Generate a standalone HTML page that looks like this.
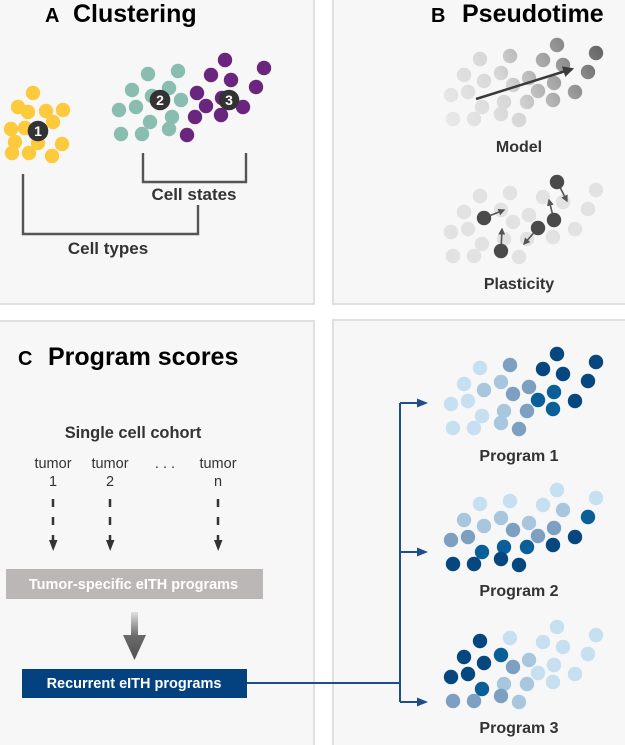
<!DOCTYPE html>
<html><head><meta charset="utf-8"><style>
html,body{margin:0;padding:0;background:#fff;}
svg{display:block;}
text{font-family:"Liberation Sans",Arial,sans-serif;}
</style></head><body>
<svg width="625" height="745" viewBox="0 0 625 745" xmlns="http://www.w3.org/2000/svg">
<defs>
<linearGradient id="gm" gradientUnits="userSpaceOnUse" x1="450" y1="125" x2="600" y2="45">
<stop offset="0" stop-color="#e8e8e8"/><stop offset="0.4" stop-color="#d6d6d6"/><stop offset="0.65" stop-color="#a8a8a8"/><stop offset="1" stop-color="#666"/>
</linearGradient>
<linearGradient id="ga" x1="0" y1="0" x2="0" y2="1">
<stop offset="0" stop-color="#e0e0e0"/><stop offset="0.5" stop-color="#6a6a6a"/><stop offset="1" stop-color="#505050"/>
</linearGradient>
<marker id="pa" viewBox="0 0 10 10" refX="8" refY="5" markerWidth="7" markerHeight="7" markerUnits="userSpaceOnUse" orient="auto"><path d="M0,0 L10,5 L0,10 z" fill="#555"/></marker>
<marker id="ma" viewBox="0 0 10 10" refX="8" refY="5" markerWidth="11" markerHeight="11" markerUnits="userSpaceOnUse" orient="auto"><path d="M0,0 L10,5 L0,10 z" fill="#3a3a3a"/></marker>
</defs>

<!-- panels -->
<rect x="-2" y="-2" width="316" height="306" fill="#f7f7f7" stroke="#e0e0e0" stroke-width="2"/>
<rect x="333" y="-2" width="294" height="306" fill="#f7f7f7" stroke="#e0e0e0" stroke-width="2"/>
<rect x="-2" y="321" width="316" height="426" fill="#f7f7f7" stroke="#e0e0e0" stroke-width="2"/>
<rect x="333" y="320" width="294" height="427" fill="#f7f7f7" stroke="#e0e0e0" stroke-width="2"/>

<!-- titles -->
<text x="45" y="22" font-weight="bold" fill="#000"><tspan font-size="20">A</tspan><tspan x="73" font-size="25">Clustering</tspan></text>
<text x="431" y="22" font-weight="bold" fill="#000"><tspan font-size="20">B</tspan><tspan x="462" font-size="25">Pseudotime</tspan></text>
<text x="18" y="365" font-weight="bold" fill="#000"><tspan font-size="20">C</tspan><tspan x="48" font-size="25">Program scores</tspan></text>

<!-- Panel A yellow -->
<g fill="#fdc93d">
<circle cx="33" cy="93" r="7.2"/><circle cx="18" cy="107" r="7.2"/><circle cx="28" cy="112" r="7.2"/><circle cx="46" cy="111" r="7.2"/><circle cx="63" cy="110" r="7.2"/><circle cx="53" cy="122" r="7.2"/><circle cx="11" cy="129" r="7.2"/><circle cx="25" cy="128" r="7.2"/><circle cx="38" cy="143" r="7.2"/><circle cx="15" cy="142" r="7.2"/><circle cx="62" cy="144" r="7.2"/><circle cx="12" cy="153" r="7.2"/><circle cx="29" cy="153" r="7.2"/><circle cx="52" cy="156" r="7.2"/>
</g>
<!-- Panel A teal/purple -->
<g transform="translate(-332,-294)">
<g fill="#88bdb0">
<circle cx="480" cy="368" r="7.2"/><circle cx="510" cy="365" r="7.2"/><circle cx="464" cy="384" r="7.2"/><circle cx="501" cy="382" r="7.2"/><circle cx="484" cy="390" r="7.2"/><circle cx="513" cy="394" r="7.2"/><circle cx="451" cy="404" r="7.2"/><circle cx="468" cy="401" r="7.2"/><circle cx="504" cy="411" r="7.2"/><circle cx="482" cy="416" r="7.2"/><circle cx="501" cy="423" r="7.2"/><circle cx="453" cy="428" r="7.2"/><circle cx="474" cy="428" r="7.2"/>
</g>
<g fill="#6a267f">
<circle cx="557" cy="354" r="7.2"/><circle cx="596" cy="362" r="7.2"/><circle cx="543" cy="369" r="7.2"/><circle cx="563" cy="374" r="7.2"/><circle cx="588" cy="381" r="7.2"/><circle cx="529" cy="387" r="7.2"/><circle cx="554" cy="392" r="7.2"/><circle cx="538" cy="400" r="7.2"/><circle cx="575" cy="401" r="7.2"/><circle cx="527" cy="411" r="7.2"/><circle cx="553" cy="409" r="7.2"/><circle cx="519" cy="429" r="7.2"/>
</g>
</g>
<g font-weight="bold" font-size="14" fill="#fff" text-anchor="middle">
<circle cx="38" cy="131" r="10.3" fill="#333"/><text x="38" y="136">1</text>
<circle cx="160" cy="100" r="10.3" fill="#333"/><text x="160" y="105">2</text>
<circle cx="229" cy="100" r="10.3" fill="#333"/><text x="229" y="105">3</text>
</g>
<!-- brackets -->
<g fill="none" stroke="#555" stroke-width="2.4">
<path d="M143,153 V182 H246 V153"/>
<path d="M23,174 V234 H198 V205"/>
</g>
<g font-weight="bold" font-size="17" fill="#333" text-anchor="middle">
<text x="194" y="200">Cell states</text>
<text x="108" y="254">Cell types</text>
</g>

<!-- Panel B model -->
<g transform="translate(0,-309)" fill="url(#gm)">
</g>
<g fill="url(#gm)">
<circle cx="557" cy="45" r="7.2"/><circle cx="596" cy="53" r="7.2"/><circle cx="480" cy="59" r="7.2"/><circle cx="510" cy="56" r="7.2"/><circle cx="543" cy="60" r="7.2"/><circle cx="563" cy="65" r="7.2"/><circle cx="588" cy="72" r="7.2"/><circle cx="464" cy="75" r="7.2"/><circle cx="501" cy="73" r="7.2"/><circle cx="484" cy="81" r="7.2"/><circle cx="513" cy="85" r="7.2"/><circle cx="529" cy="78" r="7.2"/><circle cx="554" cy="83" r="7.2"/><circle cx="538" cy="91" r="7.2"/><circle cx="575" cy="92" r="7.2"/><circle cx="451" cy="95" r="7.2"/><circle cx="468" cy="92" r="7.2"/><circle cx="504" cy="102" r="7.2"/><circle cx="527" cy="102" r="7.2"/><circle cx="553" cy="100" r="7.2"/><circle cx="482" cy="107" r="7.2"/><circle cx="501" cy="114" r="7.2"/><circle cx="453" cy="119" r="7.2"/><circle cx="474" cy="119" r="7.2"/><circle cx="519" cy="120" r="7.2"/>
</g>
<line x1="476" y1="99" x2="572" y2="69" stroke="#3a3a3a" stroke-width="2.5" marker-end="url(#ma)"/>
<text x="519" y="152" font-weight="bold" font-size="16" fill="#333" text-anchor="middle">Model</text>

<!-- Panel B plasticity -->
<g transform="translate(0,-172)">
<g fill="#e2e2e2">
<circle cx="596" cy="362" r="7.2"/><circle cx="480" cy="368" r="7.2"/><circle cx="510" cy="365" r="7.2"/><circle cx="543" cy="369" r="7.2"/><circle cx="563" cy="374" r="7.2"/><circle cx="588" cy="381" r="7.2"/><circle cx="464" cy="384" r="7.2"/><circle cx="501" cy="382" r="7.2"/><circle cx="513" cy="394" r="7.2"/><circle cx="529" cy="387" r="7.2"/><circle cx="575" cy="401" r="7.2"/><circle cx="451" cy="404" r="7.2"/><circle cx="468" cy="401" r="7.2"/><circle cx="504" cy="411" r="7.2"/><circle cx="527" cy="411" r="7.2"/><circle cx="553" cy="409" r="7.2"/><circle cx="482" cy="416" r="7.2"/><circle cx="453" cy="428" r="7.2"/><circle cx="474" cy="428" r="7.2"/><circle cx="519" cy="429" r="7.2"/>
</g>
<g fill="#4a4a4a">
<circle cx="557" cy="354" r="7.2"/><circle cx="484" cy="390" r="7.2"/><circle cx="554" cy="392" r="7.2"/><circle cx="538" cy="400" r="7.2"/><circle cx="501" cy="423" r="7.2"/>
</g>
</g>
<g stroke="#555" stroke-width="1.6" marker-end="url(#pa)">
<line x1="560.4" y1="188" x2="567" y2="201"/>
<line x1="490.5" y1="215.4" x2="504" y2="210"/>
<line x1="552.3" y1="213.2" x2="549" y2="200"/>
<line x1="533.4" y1="233.3" x2="524" y2="244"/>
<line x1="501.3" y1="244" x2="502" y2="229"/>
</g>
<text x="519" y="289" font-weight="bold" font-size="16" fill="#333" text-anchor="middle">Plasticity</text>

<!-- Panel C left -->
<text x="133" y="438" font-weight="bold" font-size="16.4" fill="#333" text-anchor="middle">Single cell cohort</text>
<g font-size="14.5" fill="#333" text-anchor="middle">
<text x="53" y="468">tumor</text><text x="53" y="486">1</text>
<text x="110" y="468">tumor</text><text x="110" y="486">2</text>
<text x="165" y="468">. . .</text>
<text x="218" y="468">tumor</text><text x="218" y="486">n</text>
</g>
<g stroke="#333" stroke-width="2.5" stroke-dasharray="8,10">
<line x1="53" y1="499" x2="53" y2="544"/>
<line x1="110" y1="499" x2="110" y2="544"/>
<line x1="218" y1="499" x2="218" y2="544"/>
</g>
<g fill="#333">
<polygon points="49,540 57.5,540 53.2,551"/>
<polygon points="106,540 114.5,540 110.2,551"/>
<polygon points="214,540 222.5,540 218.2,551"/>
</g>
<rect x="6" y="569" width="257" height="30" fill="#bcb7b7"/>
<text x="133.5" y="589" font-weight="bold" font-size="14.5" fill="#fff" text-anchor="middle">Tumor-specific eITH programs</text>
<path d="M131,612 H138 V635 H146 L134.5,660 L123,635 H131 Z" fill="url(#ga)"/>
<rect x="22" y="669" width="225" height="29" fill="#03427f"/>
<text x="134" y="688" font-weight="bold" font-size="14.5" fill="#fff" text-anchor="middle">Recurrent eITH programs</text>

<!-- connectors -->
<g stroke="#1d4e87" stroke-width="2" fill="none">
<path d="M247,683 H400"/>
<path d="M400,403 V702"/>
<path d="M400,403 H420"/>
<path d="M400,552 H420"/>
<path d="M400,702 H420"/>
</g>
<g fill="#1d4e87">
<polygon points="428,403 417,398.5 417,407.5"/>
<polygon points="428,552 417,547.5 417,556.5"/>
<polygon points="428,702 417,697.5 417,706.5"/>
</g>

<!-- Program 1 -->
<g>
<circle cx="557" cy="354" r="7.2" fill="#06477f"/><circle cx="596" cy="362" r="7.2" fill="#06477f"/><circle cx="480" cy="368" r="7.2" fill="#c6dff1"/><circle cx="510" cy="365" r="7.2" fill="#7c9fc2"/><circle cx="543" cy="369" r="7.2" fill="#06477f"/><circle cx="563" cy="374" r="7.2" fill="#06477f"/><circle cx="588" cy="381" r="7.2" fill="#06477f"/><circle cx="464" cy="384" r="7.2" fill="#c6dff1"/><circle cx="501" cy="382" r="7.2" fill="#a8c6de"/><circle cx="484" cy="390" r="7.2" fill="#a8c6de"/><circle cx="513" cy="394" r="7.2" fill="#7c9fc2"/><circle cx="529" cy="387" r="7.2" fill="#7c9fc2"/><circle cx="554" cy="392" r="7.2" fill="#0b5f98"/><circle cx="538" cy="400" r="7.2" fill="#0b5f98"/><circle cx="575" cy="401" r="7.2" fill="#06477f"/><circle cx="451" cy="404" r="7.2" fill="#c6dff1"/><circle cx="468" cy="401" r="7.2" fill="#c6dff1"/><circle cx="504" cy="411" r="7.2" fill="#a8c6de"/><circle cx="527" cy="411" r="7.2" fill="#7c9fc2"/><circle cx="553" cy="409" r="7.2" fill="#0b5f98"/><circle cx="482" cy="416" r="7.2" fill="#c6dff1"/><circle cx="501" cy="423" r="7.2" fill="#a8c6de"/><circle cx="453" cy="428" r="7.2" fill="#c6dff1"/><circle cx="474" cy="428" r="7.2" fill="#c6dff1"/><circle cx="519" cy="429" r="7.2" fill="#7c9fc2"/>
</g>
<!-- Program 2 -->
<g transform="translate(0,136)">
<circle cx="557" cy="354" r="7.2" fill="#c6dff1"/><circle cx="596" cy="362" r="7.2" fill="#c6dff1"/><circle cx="480" cy="368" r="7.2" fill="#c6dff1"/><circle cx="510" cy="365" r="7.2" fill="#c6dff1"/><circle cx="543" cy="369" r="7.2" fill="#c6dff1"/><circle cx="563" cy="374" r="7.2" fill="#a8c6de"/><circle cx="588" cy="381" r="7.2" fill="#0b5f98"/><circle cx="464" cy="384" r="7.2" fill="#a8c6de"/><circle cx="501" cy="382" r="7.2" fill="#a8c6de"/><circle cx="484" cy="390" r="7.2" fill="#a8c6de"/><circle cx="513" cy="394" r="7.2" fill="#7c9fc2"/><circle cx="529" cy="387" r="7.2" fill="#a8c6de"/><circle cx="554" cy="392" r="7.2" fill="#7c9fc2"/><circle cx="538" cy="400" r="7.2" fill="#7c9fc2"/><circle cx="575" cy="401" r="7.2" fill="#06477f"/><circle cx="451" cy="404" r="7.2" fill="#7c9fc2"/><circle cx="468" cy="401" r="7.2" fill="#7c9fc2"/><circle cx="504" cy="411" r="7.2" fill="#0b5f98"/><circle cx="527" cy="411" r="7.2" fill="#0b5f98"/><circle cx="553" cy="409" r="7.2" fill="#06477f"/><circle cx="482" cy="416" r="7.2" fill="#0b5f98"/><circle cx="501" cy="423" r="7.2" fill="#06477f"/><circle cx="453" cy="428" r="7.2" fill="#06477f"/><circle cx="474" cy="428" r="7.2" fill="#06477f"/><circle cx="519" cy="429" r="7.2" fill="#06477f"/>
</g>
<!-- Program 3 -->
<g transform="translate(0,273)">
<circle cx="557" cy="354" r="7.2" fill="#c6dff1"/><circle cx="596" cy="362" r="7.2" fill="#c6dff1"/><circle cx="480" cy="368" r="7.2" fill="#06477f"/><circle cx="510" cy="365" r="7.2" fill="#c6dff1"/><circle cx="543" cy="369" r="7.2" fill="#c6dff1"/><circle cx="563" cy="374" r="7.2" fill="#c6dff1"/><circle cx="588" cy="381" r="7.2" fill="#c6dff1"/><circle cx="464" cy="384" r="7.2" fill="#06477f"/><circle cx="501" cy="382" r="7.2" fill="#0b5f98"/><circle cx="484" cy="390" r="7.2" fill="#06477f"/><circle cx="513" cy="394" r="7.2" fill="#7c9fc2"/><circle cx="529" cy="387" r="7.2" fill="#a8c6de"/><circle cx="554" cy="392" r="7.2" fill="#c6dff1"/><circle cx="538" cy="400" r="7.2" fill="#c6dff1"/><circle cx="575" cy="401" r="7.2" fill="#c6dff1"/><circle cx="451" cy="404" r="7.2" fill="#06477f"/><circle cx="468" cy="401" r="7.2" fill="#06477f"/><circle cx="504" cy="411" r="7.2" fill="#a8c6de"/><circle cx="527" cy="411" r="7.2" fill="#a8c6de"/><circle cx="553" cy="409" r="7.2" fill="#c6dff1"/><circle cx="482" cy="416" r="7.2" fill="#0b5f98"/><circle cx="501" cy="423" r="7.2" fill="#7c9fc2"/><circle cx="453" cy="428" r="7.2" fill="#7c9fc2"/><circle cx="474" cy="428" r="7.2" fill="#7c9fc2"/><circle cx="519" cy="429" r="7.2" fill="#a8c6de"/>
</g>
<g font-weight="bold" font-size="16" fill="#333" text-anchor="middle">
<text x="519" y="461">Program 1</text>
<text x="519" y="596">Program 2</text>
<text x="519" y="733">Program 3</text>
</g>
</svg>
</body></html>
